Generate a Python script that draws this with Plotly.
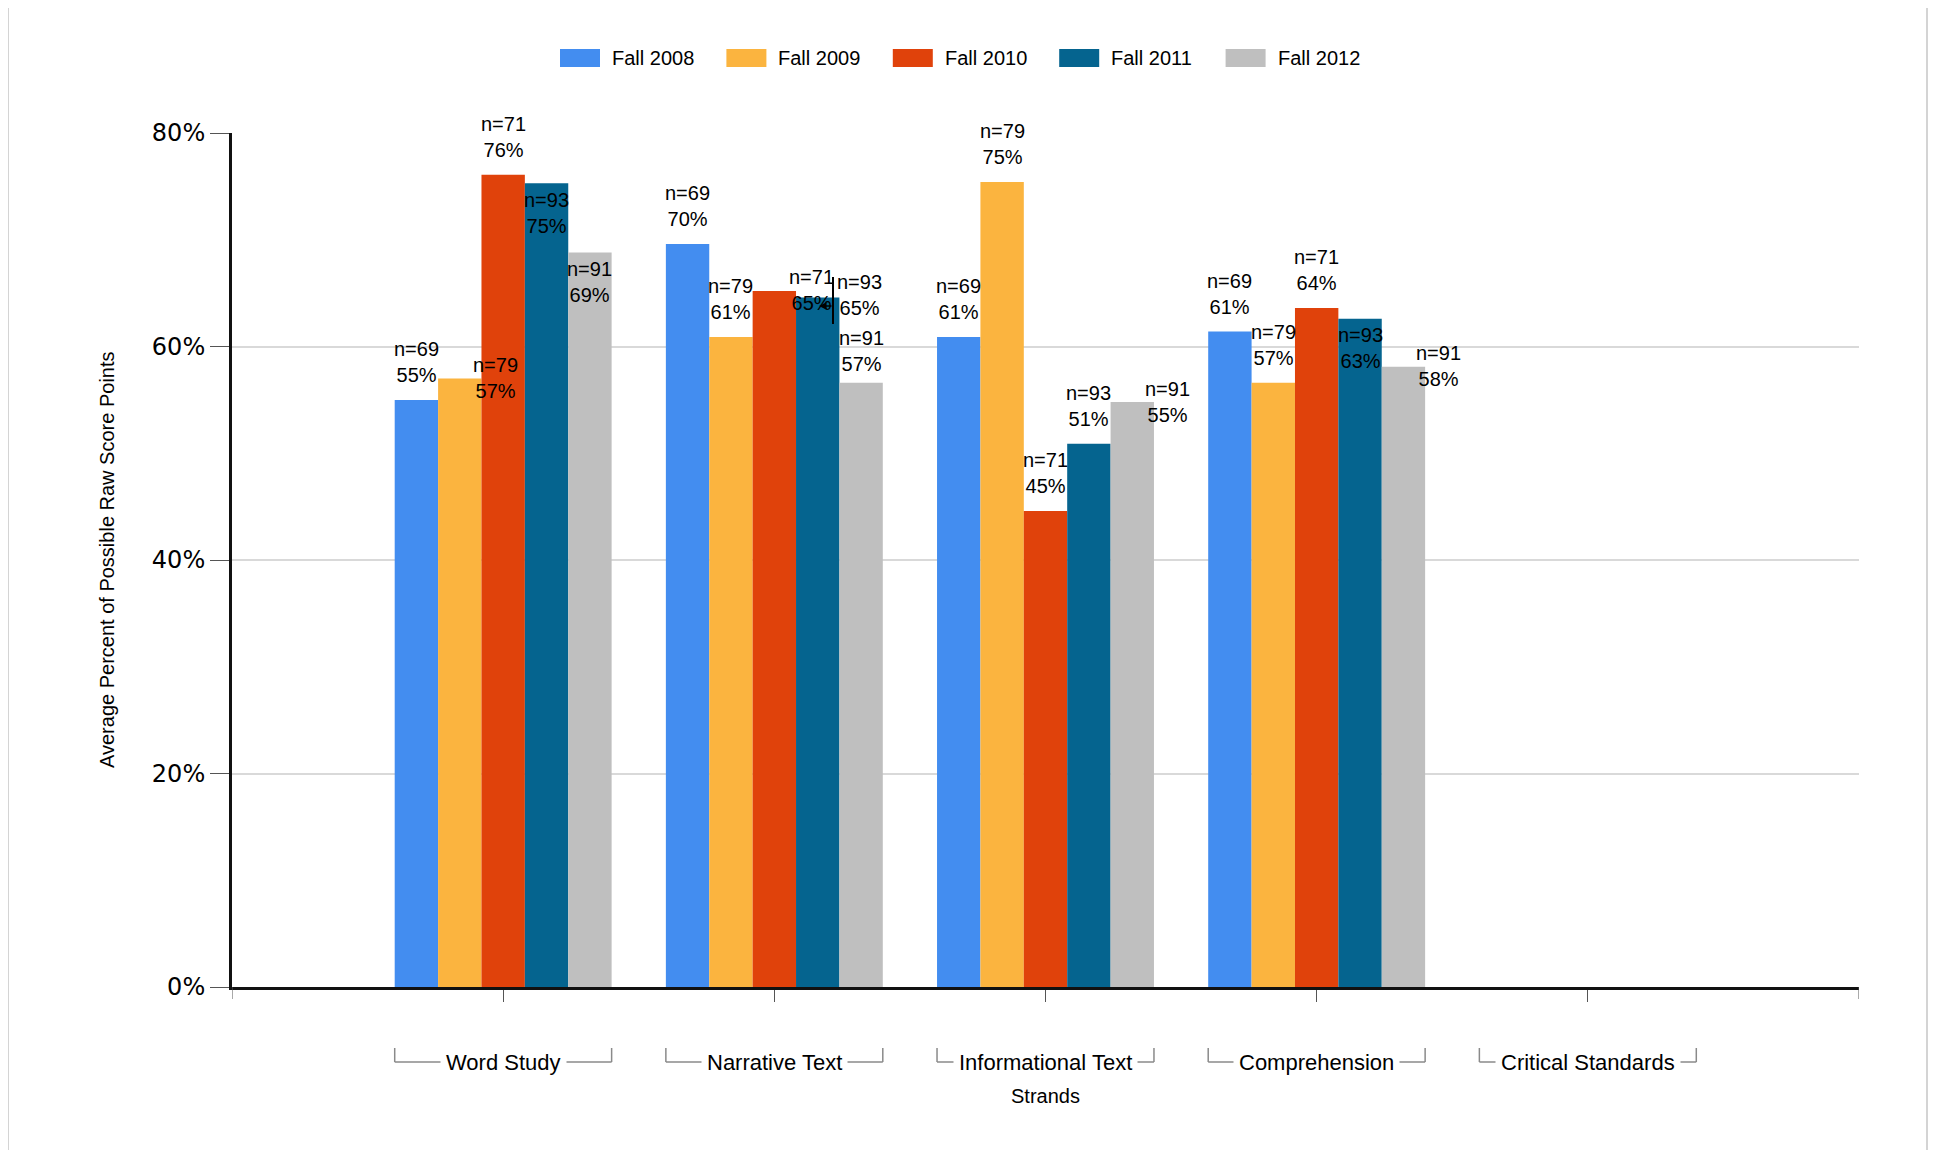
import plotly.graph_objects as go

categories = ['Word Study', 'Narrative Text', 'Informational Text', 'Comprehension', 'Critical Standards']
series_names = ['Fall 2008', 'Fall 2009', 'Fall 2010', 'Fall 2011', 'Fall 2012']
counts = [69, 79, 71, 93, 91]
fall_2008 = [55.0, 69.6, 60.9, 61.4, None]
fall_2009 = [57.0, 60.9, 75.4, 56.6, None]
fall_2010 = [76.1, 65.2, 44.6, 63.6, None]
fall_2011 = [75.3, 64.6, 50.9, 62.6, None]
fall_2012 = [68.8, 56.6, 54.8, 58.1, None]
y_ticks = [0, 20, 40, 60, 80]
y_tick_labels = ['0%', '20%', '40%', '60%', '80%']

series_values = [fall_2008, fall_2009, fall_2010, fall_2011, fall_2012]
colors = ['#438df0', '#fbb43f', '#e0420b', '#05648f', '#bfbfbf']

# page body adds an 8px margin, so the figure is laid out in page coords minus 8
OFF = 8
W, H = 1937 - OFF, 1150 - OFF
L, T = 232 - OFF, 133 - OFF
R, B = 78, 163
PW, PH = W - L - R, H - T - B
FONT = 'Liberation Sans, Arial, sans-serif'


def px_x(px):
    return (px - OFF - L) / PW


def px_y(py):
    return (H - B - (py - OFF)) / PH


# the source chart nudged some labels that would have collided (dx, dy in px)
nudges = {(1, 0): (36, 37), (3, 0): (0, 68), (4, 0): (0, 67),
          (2, 1): (37, 37), (3, 1): (42, 36), (4, 1): (0, 6),
          (4, 2): (35, 38),
          (3, 3): (0, 67), (4, 3): (35, 37)}

fig = go.Figure()
for name, vals, col in zip(series_names, series_values, colors):
    fig.add_trace(go.Bar(x=categories, y=vals, name=name, marker_color=col,
                         marker_line_width=0, showlegend=False))

annotations = []
shapes = []

# value labels
for si, vals in enumerate(series_values):
    for ci, v in enumerate(vals):
        if v is None:
            continue
        dx, dy = nudges.get((si, ci), (0, 0))
        annotations.append(dict(
            x=ci + (si - 2) * 0.16, y=v, xref='x', yref='y',
            text=f'n={counts[si]}<br>{round(v)}%', showarrow=False,
            xanchor='center', yanchor='bottom', xshift=dx, yshift=12 - dy,
            font=dict(family=FONT, size=20, color='black')))

# small leader mark next to the Narrative Text / Fall 2011 label
shapes.append(dict(type='line', xref='paper', yref='paper', x0=px_x(833), x1=px_x(833),
                   y0=px_y(277), y1=px_y(324), line=dict(color='black', width=2)))
annotations.append(dict(x=px_x(819), y=px_y(306), xref='paper', yref='paper',
                        axref='pixel', ayref='pixel', ax=14, ay=0,
                        text='', showarrow=True, arrowhead=2, arrowsize=1,
                        arrowwidth=1.5, arrowcolor='black'))

# category labels with brackets
for ci, cat in enumerate(categories):
    annotations.append(dict(
        x=ci, y=px_y(1062), xref='x', yref='paper', text=cat, showarrow=False,
        xanchor='center', yanchor='middle', bgcolor='white', borderpad=5,
        font=dict(family=FONT, size=22, color='black')))
    shapes.append(dict(type='line', xref='x', yref='paper', x0=ci - 0.4, x1=ci + 0.4,
                       y0=px_y(1062), y1=px_y(1062), line=dict(color='#8a8a8a', width=1.5)))
    for edge in (ci - 0.4, ci + 0.4):
        shapes.append(dict(type='line', xref='x', yref='paper', x0=edge, x1=edge,
                           y0=px_y(1048), y1=px_y(1062), line=dict(color='#8a8a8a', width=1.5)))

# end ticks of the x axis
for edge in (-1, 5):
    shapes.append(dict(type='line', xref='x', yref='paper', x0=edge, x1=edge,
                       y0=0, y1=px_y(999), line=dict(color='#555555', width=1)))

annotations.append(dict(x=2, y=px_y(1096), xref='x', yref='paper', text='Strands',
                        showarrow=False, yanchor='middle',
                        font=dict(family=FONT, size=20, color='black')))
annotations.append(dict(x=px_x(107), y=0.5, xref='paper', yref='paper',
                        text='Average Percent of Possible Raw Score Points',
                        textangle=-90, showarrow=False, xanchor='center', yanchor='middle',
                        font=dict(family=FONT, size=20, color='black')))

# legend drawn by hand to get the wide swatches
for i, (name, col) in enumerate(zip(series_names, colors)):
    x0 = 560 + i * 166.4
    shapes.append(dict(type='rect', xref='paper', yref='paper',
                       x0=px_x(x0), x1=px_x(x0 + 40), y0=px_y(67), y1=px_y(49),
                       fillcolor=col, line=dict(width=0)))
    annotations.append(dict(x=px_x(x0 + 50), y=px_y(58), xref='paper', yref='paper',
                            text=name, showarrow=False, xanchor='left', yanchor='middle',
                            font=dict(family=FONT, size=20, color='black')))

# outer frame
shapes.append(dict(type='rect', xref='paper', yref='paper', x0=px_x(8), x1=px_x(1927),
                   y0=px_y(1170), y1=px_y(4), line=dict(color='#d4d4d4', width=2)))

fig.update_layout(
    width=W, height=H,
    margin=dict(l=L, r=R, t=T, b=B),
    plot_bgcolor='white', paper_bgcolor='white',
    barmode='group', bargap=0.2, bargroupgap=0,
    annotations=annotations, shapes=shapes,
    showlegend=False,
)
fig.update_xaxes(type='category', range=[-1, 5], showticklabels=False,
                 showline=True, linecolor='#111111', linewidth=3,
                 ticks='outside', ticklen=12, tickcolor='#555555', showgrid=False)
fig.update_yaxes(range=[0, 80], tickvals=y_ticks, ticktext=y_tick_labels,
                 showline=True, linecolor='#111111', linewidth=3,
                 ticks='outside', ticklen=19, tickcolor='#555555',
                 gridcolor='#d9d9d9', gridwidth=2, zeroline=False,
                 tickfont=dict(family='DejaVu Sans', size=24, color='black'))

fig.write_html("out.html")
